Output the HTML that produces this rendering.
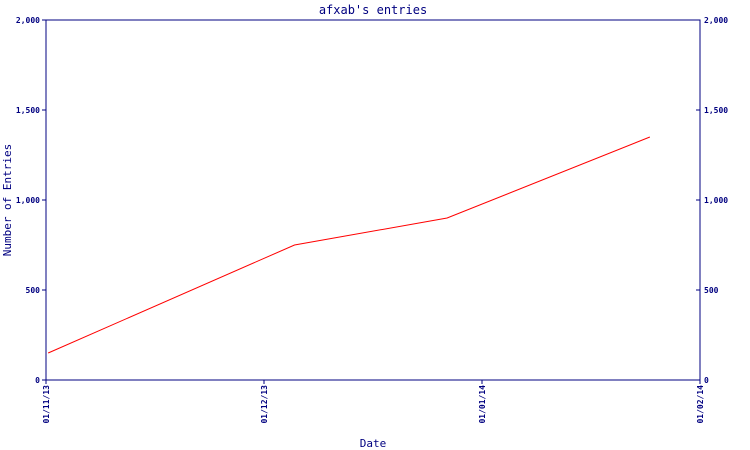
<!DOCTYPE html>
<html><head><meta charset="utf-8"><style>
html,body{margin:0;padding:0;background:#fff;}
svg{display:block;font-family:"DejaVu Sans Mono","Liberation Mono",monospace;}
</style></head><body>
<svg width="750" height="450" xmlns="http://www.w3.org/2000/svg">
<text x="373" y="14" text-anchor="middle" font-size="12" fill="#000080">afxab's entries</text>
<g id="axes"></g>
<g id="marks"></g>
<text x="373" y="447" text-anchor="middle" font-size="11" fill="#000080">Date</text>
<text transform="translate(11,200) rotate(-90)" text-anchor="middle" font-size="11" fill="#000080">Number of Entries</text>
</svg>
<script>
const xTickLabels = ["01/11/13","01/12/13","01/01/14","01/02/14"];
const yTickValues = [0,500,1000,1500,2000];
const yTickLabels = ["0","500","1,000","1,500","2,000"];
// dates as month offset from 01/11/13
const pointMonths = [0.01, 1.14, 1.84, 2.77];
const pointValues = [150, 750, 900, 1350];

const X0=46,X1=700,Y0=380,Y1=20;
const xScale=m=>X0+(X1-X0)*m/3;
const yScale=v=>Y0-(Y0-Y1)*v/2000;
const NS="http://www.w3.org/2000/svg";
const axes=document.getElementById('axes');
const marks=document.getElementById('marks');
function mk(tag,attrs,parent){const e=document.createElementNS(NS,tag);for(const k in attrs)e.setAttribute(k,attrs[k]);parent.appendChild(e);return e;}
const frame=mk('rect',{x:X0,y:Y1,width:X1-X0,height:Y0-Y1,fill:'none',stroke:'#000080','stroke-width':1},axes);


yTickValues.forEach((v,i)=>{
  const y=yScale(v);
  const t1=mk('line',{x1:X0-4,x2:X0,y1:y,y2:y,stroke:'#000080'},axes);
  
  
  const t2=mk('line',{x1:X1-4,x2:X1,y1:y,y2:y,stroke:'#000080'},axes);
  
  
  const l=mk('text',{x:X0-6,y:y+3,'text-anchor':'end','font-size':8,fill:'#000080','font-weight':'bold'},axes);
  l.textContent=yTickLabels[i];
  
  
  const r=mk('text',{x:X1+4,y:y+3,'text-anchor':'start','font-size':8,fill:'#000080','font-weight':'bold'},axes);
  r.textContent=yTickLabels[i];
  
  
});
xTickLabels.forEach((s,i)=>{
  const x=xScale(i);
  const t=mk('line',{x1:x,x2:x,y1:Y0,y2:Y0+4,stroke:'#000080'},axes);
  
  
  const l=mk('text',{transform:`translate(${x+3},${Y0+5}) rotate(-90)`,'text-anchor':'end','font-size':8,fill:'#000080','font-weight':'bold'},axes);
  l.textContent=s;
  
  
});
const pts=pointMonths.map((m,i)=>xScale(m)+','+yScale(pointValues[i])).join(' ');
const line=mk('polyline',{points:pts,fill:'none',stroke:'#ff0000','stroke-width':1},marks);


</script>
</body></html>
